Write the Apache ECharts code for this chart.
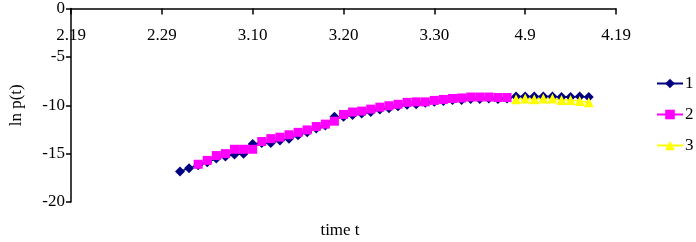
<!DOCTYPE html>
<html>
<head>
<meta charset="utf-8">
<script src="https://cdn.jsdelivr.net/npm/echarts@6/dist/echarts.min.js"></script>
<style>
  html, body { margin: 0; padding: 0; background: #fff; }
  #main { width: 696px; height: 242px; }
</style>
</head>
<body>
<div id="main"></div>
<script>
// days from 2.19 to 4.19
var categories = [
  '2.19','2.20','2.21','2.22','2.23','2.24','2.25','2.26','2.27','2.28','2.29',
  '3.1','3.2','3.3','3.4','3.5','3.6','3.7','3.8','3.9','3.10',
  '3.11','3.12','3.13','3.14','3.15','3.16','3.17','3.18','3.19','3.20',
  '3.21','3.22','3.23','3.24','3.25','3.26','3.27','3.28','3.29','3.30','3.31',
  '4.1','4.2','4.3','4.4','4.5','4.6','4.7','4.8','4.9','4.10',
  '4.11','4.12','4.13','4.14','4.15','4.16','4.17','4.18','4.19'
]
var yTicks = [0, -5, -10, -15, -20]

var s1Start = '3.2'
var s1 = [-16.85, -16.5, -16.2, -15.9, -15.5, -15.3, -15.1, -15.0, -14.0, -13.9,
          -13.9, -13.65, -13.45, -13.1, -12.8, -12.4, -12.1, -11.2, -11.2, -11.0,
          -10.85, -10.7, -10.45, -10.3, -10.1, -9.95, -9.9, -9.75, -9.65, -9.55,
          -9.45, -9.45, -9.35, -9.35, -9.3, -9.35, -9.3, -9.1, -9.1, -9.1,
          -9.1, -9.1, -9.15, -9.15, -9.1, -9.15]

var s2Start = '3.4'
var s2 = [-16.1, -15.7, -15.2, -15.0, -14.55, -14.55, -14.55, -13.75, -13.45, -13.3,
          -13.05, -12.8, -12.55, -12.2, -11.95, -11.65, -10.95, -10.7, -10.6, -10.4,
          -10.2, -10.05, -9.9, -9.7, -9.65, -9.65, -9.5, -9.4, -9.3, -9.25,
          -9.15, -9.15, -9.15, -9.2, -9.2]

var s3Start = '4.8'
var s3 = [-9.37, -9.3, -9.37, -9.3, -9.3, -9.47, -9.47, -9.57, -9.7]

function toData(start, vals){
    var i0 = categories.indexOf(start)
    return vals.map(function(v, i){ return [categories[i0 + i], v] })
}

var font = 'Liberation Serif'
var myChart = echarts.init(document.getElementById('main'))
myChart.setOption({
    backgroundColor: '#fff',
    animation: false,
    grid: { left: 63, right: 80, top: 5, bottom: 40, containLabel: false },
    legend: {
        orient: 'vertical',
        left: 651,
        top: 70,
        itemWidth: 26,
        itemHeight: 12,
        itemGap: 14,
        textStyle: { fontFamily: font, fontSize: 17, color: '#000', padding: [0, 0, 0, -3] },
        data: ['1', '2', '3']
    },
    xAxis: {
        type: 'category',
        position: 'top',
        boundaryGap: false,
        data: categories,
        axisLine: { onZero: false, lineStyle: { color: '#000', width: 1.5 } },
        axisTick: { inside: true, length: 6, interval: 9, lineStyle: { color: '#000', width: 1.5 } },
        axisLabel: { inside: true, margin: 19, interval: 9, fontFamily: font, fontSize: 17, color: '#000' },
        splitLine: { show: false }
    },
    yAxis: {
        type: 'value',
        min: -20,
        max: 0,
        interval: 5,
        name: 'ln p(t)',
        nameLocation: 'middle',
        nameGap: 46,
        nameTextStyle: { fontFamily: font, fontSize: 17, color: '#000' },
        axisLine: { show: true, lineStyle: { color: '#000', width: 1.5 } },
        axisTick: { show: true, length: 5, lineStyle: { color: '#000', width: 1.5 } },
        axisLabel: { margin: 6, fontFamily: font, fontSize: 17, color: '#000' },
        splitLine: { show: false }
    },
    graphic: [{
        type: 'text',
        x: 340,
        y: 231,
        style: { text: 'time t', fontFamily: font, fontSize: 17, fill: '#000', align: 'center', verticalAlign: 'middle' }
    }],
    series: [
        {
            name: '1', type: 'line', data: toData(s1Start, s1),
            symbol: 'diamond', symbolSize: 10, showAllSymbol: true,
            lineStyle: { color: '#000080', width: 1.5 },
            itemStyle: { color: '#000080' }
        },
        {
            name: '2', type: 'line', data: toData(s2Start, s2),
            symbol: 'rect', symbolSize: 9, showAllSymbol: true,
            lineStyle: { color: '#ff00ff', width: 1.5 },
            itemStyle: { color: '#ff00ff' }
        },
        {
            name: '3', type: 'line', data: toData(s3Start, s3),
            symbol: 'triangle', symbolSize: 10, showAllSymbol: true,
            lineStyle: { color: '#ffff00', width: 1.5 },
            itemStyle: { color: '#ffff00' }
        }
    ]
})
</script>
</body>
</html>
